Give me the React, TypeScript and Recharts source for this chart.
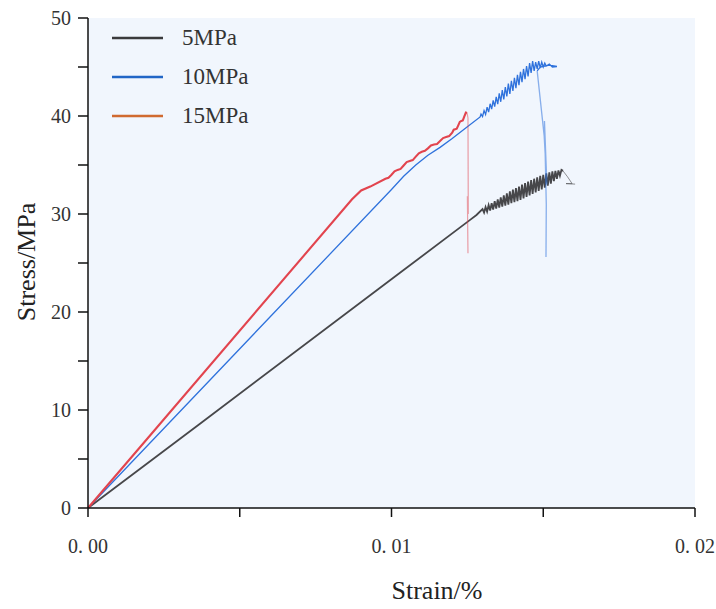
import React from "react";
import { LineChart, Line, XAxis, YAxis, CartesianGrid } from "recharts";

// strain (%) / stress (MPa) pairs
const strainTicks = [0, 0.005, 0.01, 0.015, 0.02];
const stressTicks = [0, 5, 10, 15, 20, 25, 30, 35, 40, 45, 50];
const labelledStrain = [0, 0.01, 0.02];

const series5MPa: [number, number][] = [
  [0, 0], [0.00369, 8.6], [0.01028, 24.0], [0.01259, 29.4], [0.0128, 29.9],
  [0.013, 30.5], [0.01305, 30.15], [0.0131, 30.7], [0.01315, 30.25], [0.0132, 30.9],
  [0.01325, 30.35], [0.0133, 31.1], [0.01335, 30.45], [0.0134, 31.3], [0.01345, 30.55],
  [0.0135, 31.5], [0.01355, 30.65], [0.0136, 31.7], [0.01365, 30.75], [0.0137, 31.9],
  [0.01375, 30.85], [0.0138, 32.1], [0.01385, 30.95], [0.0139, 32.3], [0.01395, 31.1],
  [0.014, 32.5], [0.01405, 31.2], [0.0141, 32.65], [0.01415, 31.3], [0.0142, 32.8],
  [0.01425, 31.45], [0.0143, 33.0], [0.01435, 31.6], [0.0144, 33.15], [0.01445, 31.75],
  [0.0145, 33.3], [0.01455, 31.9], [0.0146, 33.45], [0.01465, 32.05], [0.0147, 33.6],
  [0.01475, 32.2], [0.0148, 33.75], [0.01485, 32.35], [0.0149, 33.9], [0.01495, 32.5],
  [0.015, 34.0], [0.01505, 32.7], [0.0151, 34.15], [0.01515, 32.9], [0.0152, 34.25],
  [0.01525, 33.1], [0.0153, 34.35], [0.01535, 33.35], [0.0154, 34.4], [0.01545, 33.6],
  [0.0155, 34.45], [0.01555, 33.9], [0.0156, 34.5], [0.01565, 34.4],
];
const tail5MPa: [number, number][] = [
  [0.01565, 34.4], [0.0158, 33.8], [0.01595, 33.1], [0.01575, 33.1], [0.01605, 33.05],
];

const series10MPa: [number, number][] = [
  [0, 0], [0.01, 32.5], [0.0104, 33.85], [0.0108, 35.0], [0.0112, 36.0],
  [0.0116, 36.8], [0.012, 37.7], [0.0125, 38.9], [0.01292, 39.9], [0.01295, 40.2],
  [0.013, 39.95], [0.01305, 40.55], [0.0131, 40.15], [0.01315, 40.9], [0.0132, 40.4],
  [0.01325, 41.25], [0.0133, 40.7], [0.01335, 41.6], [0.0134, 40.95], [0.01345, 41.95],
  [0.0135, 41.2], [0.01355, 42.3], [0.0136, 41.45], [0.01365, 42.65], [0.0137, 41.7],
  [0.01375, 42.95], [0.0138, 42.0], [0.01385, 43.3], [0.0139, 42.25], [0.01395, 43.6],
  [0.014, 42.55], [0.01405, 43.9], [0.0141, 42.85], [0.01415, 44.2], [0.0142, 43.15],
  [0.01425, 44.5], [0.0143, 43.45], [0.01435, 44.8], [0.0144, 43.75], [0.01445, 45.1],
  [0.0145, 44.05], [0.01455, 45.4], [0.0146, 44.4], [0.01465, 45.6], [0.0147, 44.6],
  [0.01475, 45.5], [0.0148, 44.8], [0.01485, 45.6], [0.0149, 44.9], [0.01495, 45.5],
  [0.015, 45.0], [0.01505, 45.4], [0.0151, 45.1], [0.0152, 45.3], [0.0153, 45.0],
  [0.01545, 45.05], [0.0152, 45.2], [0.0149, 45.0], [0.0148, 44.6],
];
const drop10MPa: [number, number][] = [
  [0.0148, 44.6], [0.01503, 38.0], [0.01512, 33.0], [0.01504, 39.5],
  [0.0151, 31.0], [0.01509, 25.6],
];

const series15MPa: [number, number][] = [
  [0, 0], [0.0087, 31.5], [0.009, 32.4], [0.0093, 32.8], [0.0098, 33.6],
  [0.0099, 33.7], [0.01, 34.0], [0.0101, 34.35], [0.0102, 34.5], [0.0103, 34.6],
  [0.0104, 34.95], [0.0105, 35.3], [0.0106, 35.4], [0.0107, 35.5], [0.0108, 35.85],
  [0.0109, 36.2], [0.011, 36.35], [0.0111, 36.45], [0.0112, 36.7], [0.0113, 37.0],
  [0.0114, 37.1], [0.0115, 37.15], [0.0116, 37.45], [0.0117, 37.75], [0.0118, 37.85],
  [0.0119, 37.95], [0.012, 38.3], [0.01205, 38.6], [0.0121, 38.65], [0.01215, 38.7],
  [0.0122, 39.05], [0.01225, 39.4], [0.0123, 39.5], [0.01235, 39.55], [0.0124, 39.95],
  [0.01245, 40.35], [0.01249, 40.3],
];
const drop15MPa: [number, number][] = [
  [0.01249, 40.3], [0.01252, 39.8], [0.01253, 30.0], [0.0125, 31.8], [0.01252, 26.0],
];

const legendItems = [
  { name: "5MPa", color: "#3a3a3c" },
  { name: "10MPa", color: "#2166c6" },
  { name: "15MPa", color: "#d06a30" },
];

const toPoints = (pairs: [number, number][]) => pairs.map(([x, y]) => ({ x, y }));

const FONT = '"Liberation Serif", "Times New Roman", serif';

const XTitle = () => (
  <text x={437} y={599} textAnchor="middle" fontFamily={FONT} fontSize={26} fill="#222">
    Strain/%
  </text>
);

const YTitle = () => (
  <text
    x={26}
    y={262}
    textAnchor="middle"
    dominantBaseline="central"
    transform="rotate(-90 26 262)"
    fontFamily={FONT}
    fontSize={26}
    fill="#222"
  >
    Stress/MPa
  </text>
);

function formatStrain(v: number): string {
  if (!labelledStrain.some((t) => Math.abs(t - v) < 1e-9)) return "";
  return v.toFixed(2).replace(".", ". ");
}

function formatStress(v: number): string {
  return v % 10 === 0 ? String(v) : "";
}

export default function App() {
  const tickStyle = { fill: "#333", fontSize: 20, fontFamily: FONT };
  const axisLine = { stroke: "#111", strokeWidth: 1.5 };

  return (
    <div style={{ position: "absolute", left: 0, top: 0, width: 716, height: 609, background: "#fff" }}>
      <LineChart width={716} height={609} margin={{ top: 18, right: 21, bottom: 0, left: 0 }}>
        <CartesianGrid fill="#f1f6fd" horizontal={false} vertical={false} />
        <XAxis
          type="number"
          dataKey="x"
          domain={[0, 0.02]}
          ticks={strainTicks}
          interval={0}
          tickFormatter={formatStrain}
          tick={tickStyle}
          tickSize={9}
          tickMargin={22}
          axisLine={axisLine}
          tickLine={axisLine}
          height={101}
          label={<XTitle />}
        />
        <YAxis
          type="number"
          dataKey="y"
          domain={[0, 50]}
          ticks={stressTicks}
          interval={0}
          tickFormatter={formatStress}
          tick={tickStyle}
          tickSize={10}
          tickMargin={7}
          axisLine={axisLine}
          tickLine={axisLine}
          width={88}
          label={<YTitle />}
        />
        <Line data={toPoints(series5MPa)} dataKey="y" type="linear" stroke="#47474a" strokeWidth={1.8} dot={false} isAnimationActive={false} />
        <Line data={toPoints(tail5MPa)} dataKey="y" type="linear" stroke="#47474a" strokeOpacity={0.6} strokeWidth={1} dot={false} isAnimationActive={false} />
        <Line data={toPoints(series10MPa)} dataKey="y" type="linear" stroke="#2f72dc" strokeWidth={1.3} dot={false} isAnimationActive={false} />
        <Line data={toPoints(drop10MPa)} dataKey="y" type="linear" stroke="#2f72dc" strokeOpacity={0.55} strokeWidth={1.3} dot={false} isAnimationActive={false} />
        <Line data={toPoints(series15MPa)} dataKey="y" type="linear" stroke="#e2444e" strokeWidth={2.1} dot={false} isAnimationActive={false} />
        <Line data={toPoints(drop15MPa)} dataKey="y" type="linear" stroke="#e2444e" strokeOpacity={0.5} strokeWidth={1.2} dot={false} isAnimationActive={false} />
      </LineChart>
      <div style={{ position: "absolute", left: 110, top: 18, fontFamily: FONT, fontSize: 23, color: "#333" }}>
        {legendItems.map((item) => (
          <div key={item.name} style={{ display: "flex", alignItems: "center", height: 39 }}>
            <svg width={54} height={4} style={{ marginRight: 18 }}>
              <line x1={2} y1={2} x2={53} y2={2} stroke={item.color} strokeWidth={2.5} />
            </svg>
            <span>{item.name}</span>
          </div>
        ))}
      </div>
    </div>
  );
}
